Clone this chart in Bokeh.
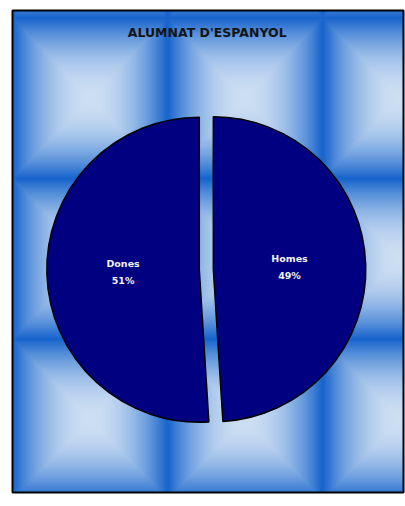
import math
import numpy as np
from bokeh.plotting import figure
from bokeh.models import Range1d, ColumnDataSource
from bokeh.embed import file_html
from bokeh.resources import INLINE
from bokeh.core.properties import value

title_text = "ALUMNAT D'ESPANYOL"
categories = ["Homes", "Dones"]
percentages = [49, 51]
pct_labels = ["49%", "51%"]

W, H = 405, 500
p = figure(width=W, height=H, x_range=Range1d(0, W), y_range=Range1d(-H, 0),
           output_backend="svg", toolbar_location=None, x_axis_type=None, y_axis_type=None,
           min_border=0)
p.outline_line_color = None
p.grid.visible = False
p.background_fill_color = "white"
p.border_fill_color = "white"

# tiled blue background (style only)
fx0, fx1, fy0, fy1 = 12, 403, 10, 492
bw, bh = fx1 - fx0, fy1 - fy0
X, Y = np.meshgrid(np.arange(bw) + fx0 + 0.5, np.arange(bh) + fy0 + 0.5)
tw, th = 155.0, 160.5
u = ((X - 12) % tw) / tw * 2 - 1
v = ((Y - 17.5) % th) / th * 2 - 1
t = np.maximum(np.abs(u), np.abs(v))
f = t ** 2
light = np.array([205, 223, 243], dtype=float)
dark = np.array([22, 100, 205], dtype=float)
col = light[None, None, :] * (1 - f[..., None]) + dark[None, None, :] * f[..., None]
img = np.empty((bh, bw), dtype=np.uint32)
view = img.view(dtype=np.uint8).reshape((bh, bw, 4))
view[..., 0:3] = col.astype(np.uint8)
view[..., 3] = 255
img = np.ascontiguousarray(img[::-1])
p.image_rgba(image=[img], x=fx0, y=-fy1, dw=bw, dh=bh)

p.quad(left=[fx0], right=[fx1], top=[-fy0], bottom=[-fy1], fill_alpha=0,
       line_color="black", line_width=2)

# pie
cx, cy, r, d = 205.8, -269.0, 152.5, 7.0
tot = float(sum(percentages))
cum = 0.0
data = dict(x=[], y=[], s=[], e=[], lx=[], ly_name=[], ly_pct=[], name=[], pct=[])
for cat, val, lab in zip(categories, percentages, pct_labels):
    a0 = cum / tot * 2 * math.pi
    a1 = (cum + val) / tot * 2 * math.pi
    cum += val
    s = math.pi / 2 - a1
    e = math.pi / 2 - a0
    mid = (s + e) / 2
    ox = cx + d * math.cos(mid)
    oy = cy + d * math.sin(mid)
    data["x"].append(ox)
    data["y"].append(oy)
    data["s"].append(s)
    data["e"].append(e)
    lxp = ox + 0.5 * r * math.cos(mid)
    lyp = oy + 0.5 * r * math.sin(mid)
    data["lx"].append(lxp)
    data["ly_name"].append(lyp + 8.5)
    data["ly_pct"].append(lyp - 8.5)
    data["name"].append(cat)
    data["pct"].append(lab)
src = ColumnDataSource(data)

p.wedge(x="x", y="y", radius=r, start_angle="s", end_angle="e", direction="anticlock",
        fill_color="#000080", line_color="black", line_width=1.5, source=src)

p.text(x="lx", y="ly_name", text="name", source=src, text_font=value("DejaVu Sans"),
       text_font_style="bold", text_font_size="9.5px", text_color="#f2f2f2",
       text_align="center", text_baseline="middle")
p.text(x="lx", y="ly_pct", text="pct", source=src, text_font=value("DejaVu Sans"),
       text_font_style="bold", text_font_size="9.5px", text_color="#f2f2f2",
       text_align="center", text_baseline="middle")

p.text(x=[206.7], y=[-31.7], text=[title_text], text_font=value("DejaVu Sans"),
       text_font_style="bold", text_font_size="12.5px", text_color="#141414",
       text_align="center", text_baseline="middle")

open("out.html", "w").write(file_html(p, INLINE))
